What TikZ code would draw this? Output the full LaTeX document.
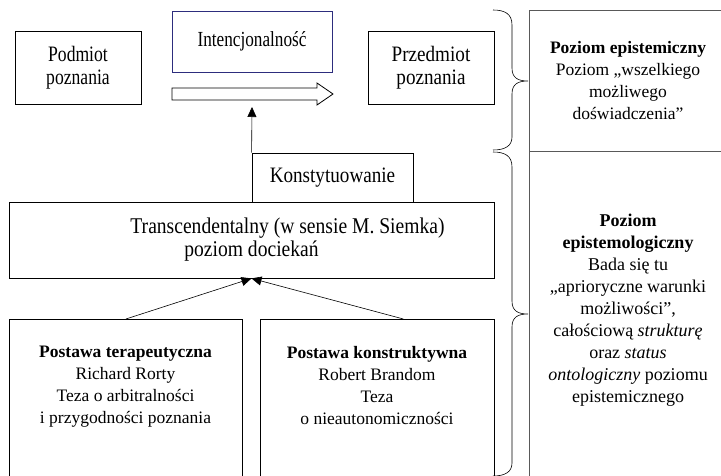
\documentclass[tikz,border=0pt]{standalone}
\usepackage{fontspec}
\setmainfont{Liberation Serif}
\newfontfamily\waski[FakeStretch=0.8]{Liberation Serif}
\newfontfamily\polwaski[FakeStretch=0.87]{Liberation Serif}
\usetikzlibrary{arrows.meta}
\definecolor{ramka}{RGB}{45,45,125}

\begin{document}
\begin{tikzpicture}[x=1pt,y=-1pt,
   font=\fontsize{17.5}{22}\selectfont,
   pole/.style={draw=black,line width=0.8pt,align=center,inner sep=0pt},
   poziom/.style={draw=black!65,line width=0.8pt,align=center,inner sep=0pt},
   tekst/.style={align=center,inner sep=0pt},
   strz/.style={line width=0.6pt,-{Triangle[length=10pt,width=9pt]}}]
   \useasboundingbox (0,0) rectangle (721,476);
   \clip (0,0) rectangle (721,476);
   \node[pole,minimum width=126,minimum height=73,font=\waski\fontsize{22}{22.5}\selectfont] (podmiot) at (78,67.5) {Podmiot\\poznania};
   \node[pole,draw=ramka,minimum width=160,minimum height=61,font=\waski\fontsize{21.5}{22}\selectfont] (intenc) at (252,41.5) {Intencjonalność};
   \node[pole,minimum width=126,minimum height=73,font=\polwaski\fontsize{22}{22.5}\selectfont] (przedmiot) at (431,67.5) {Przedmiot\\poznania};
   \draw[line width=0.8pt,fill=white]
    (172,88) -- (317,88) -- (317,83) -- (333,94) -- (317,105) -- (317,100) -- (172,100) -- cycle;
   \coordinate (grot) at (252,107);
   \node[pole,minimum width=161,minimum height=49,font=\polwaski\fontsize{22}{22}\selectfont] (konst) at (332.5,177.5) {Konstytuowanie};
   \draw[strz] (konst.north west) -- (grot);
   \node[pole,minimum width=485,minimum height=76,font=\polwaski\fontsize{22.5}{23}\selectfont] (trans) at (251.5,240)
    {\hspace*{72pt}Transcendentalny (w sensie M. Siemka)\\poziom dociekań};
   \node[pole,anchor=north west,minimum width=233,minimum height=200] (terap) at (9,319) {};
   \node[tekst,anchor=north] (terapT) at (125.5,346)
    {\textbf{Postawa terapeutyczna}\\Richard Rorty\\Teza o arbitralności\\i przygodności poznania};
   \node[pole,anchor=north west,minimum width=234,minimum height=200] (konstr) at (260,319) {};
   \node[tekst,anchor=north] (konstrT) at (377,346)
    {\textbf{Postawa konstruktywna}\\Robert Brandom\\Teza\\o nieautonomiczności};
   \draw[strz] (terap.north) -- (trans.south);
   \draw[strz] ([xshift=26pt]konstr.north) -- (trans.south);
   \node[poziom,minimum width=198,minimum height=141] (epist) at (628,80.5)
    {\textbf{Poziom epistemiczny}\\Poziom „wszelkiego\\możliwego\\doświadczenia”};
   \node[poziom,anchor=north west,minimum width=198,minimum height=340] (epistemol) at (529,151) {};
   \node[tekst,anchor=north,font=\fontsize{18}{22}\selectfont] (epistemolT) at (628,214)
    {\textbf{Poziom}\\\textbf{epistemologiczny}\\Bada się tu\\„aprioryczne warunki\\możliwości”,\\całościową \textit{strukturę}\\oraz \textit{status}\\\textit{ontologiczny} poziomu\\epistemicznego};
   \draw[line width=0.6pt] (493,10) .. controls (505,10) and (512,14) .. (512,25)
    -- (512,68) .. controls (512,78) and (518,81) .. (528,81)
    .. controls (518,81) and (512,84) .. (512,94)
    -- (512,137) .. controls (512,146) and (505,150) .. (493,150);
   \draw[line width=0.6pt] (493,152) .. controls (505,152) and (512,156) .. (512,167)
    -- (512,301) .. controls (512,311) and (518,314) .. (528,314)
    .. controls (518,314) and (512,317) .. (512,327)
    -- (512,463) .. controls (512,472) and (505,476) .. (493,476);
  \end{tikzpicture}
\end{document}
